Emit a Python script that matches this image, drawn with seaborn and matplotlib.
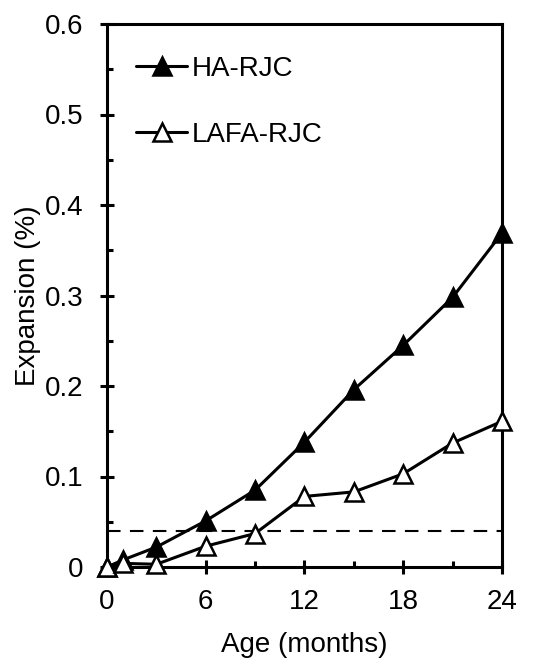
import numpy as np
import pandas as pd
import matplotlib
matplotlib.use("Agg")
import matplotlib.pyplot as plt
import seaborn as sns
from matplotlib.ticker import MultipleLocator

# ages (months) and expansion (%)
age = [0, 1, 3, 6, 9, 12, 15, 18, 21, 24]
ha_rjc = [0.0, 0.008, 0.022, 0.051, 0.085, 0.138, 0.196, 0.245, 0.298, 0.369]
lafa_rjc = [0.0, 0.004, 0.003, 0.023, 0.037, 0.078, 0.083, 0.103, 0.137, 0.161]
limit = 0.04

x_ticks = [0, 6, 12, 18, 24]
y_ticks = [0, 0.1, 0.2, 0.3, 0.4, 0.5, 0.6]
y_tick_labels = ["0", "0.1", "0.2", "0.3", "0.4", "0.5", "0.6"]

sns.set_style("ticks")
plt.rcParams["font.family"] = ["Liberation Sans", "DejaVu Sans"]

df = pd.DataFrame({"age": age, "HA-RJC": ha_rjc, "LAFA-RJC": lafa_rjc})

fig = plt.figure(figsize=(5.45, 6.59), dpi=100)
ax = fig.add_axes([107 / 545, 1 - 567 / 659, (502 - 107) / 545, (567 - 24) / 659])

ax.axhline(limit, color="black", lw=1.5, ls=(0, (6.5, 4.5)), zorder=1)

style = dict(color="black", lw=2.2, marker="^", markersize=13,
             markeredgecolor="black", markeredgewidth=1.8, clip_on=False, zorder=3)
sns.lineplot(data=df, x="age", y="HA-RJC", ax=ax, markerfacecolor="black",
             label="HA-RJC", **style)
sns.lineplot(data=df, x="age", y="LAFA-RJC", ax=ax, markerfacecolor="white",
             label="LAFA-RJC", **style)

ax.set_xlim(0, 24)
ax.set_ylim(0, 0.6)
ax.set_xticks(x_ticks)
ax.set_yticks(y_ticks)
ax.set_yticklabels(y_tick_labels)
ax.xaxis.set_minor_locator(MultipleLocator(3))
ax.yaxis.set_minor_locator(MultipleLocator(0.05))
ax.tick_params(which="major", direction="inout", length=9.5, width=2.2,
               labelsize=20, labelcolor="black", color="black")
ax.tick_params(axis="x", which="major", pad=11)
ax.tick_params(axis="y", which="major", pad=12)
ax.tick_params(which="minor", direction="in", length=4.5, width=2.2, color="black")
for s in ax.spines.values():
    s.set_linewidth(2.2)
    s.set_color("black")
    s.set_visible(True)

ax.set_xlabel("Age (months)", fontsize=20, color="black", labelpad=12)
ax.set_ylabel("Expansion (%)", fontsize=20, color="black", labelpad=3)

leg = ax.legend(loc="upper left", frameon=False, fontsize=20, handlelength=1.85,
                handletextpad=0.15, labelspacing=1.45, borderaxespad=0.0,
                bbox_to_anchor=(0.045, 0.962), labelcolor="black")

fig.savefig("out.png", dpi=100)
